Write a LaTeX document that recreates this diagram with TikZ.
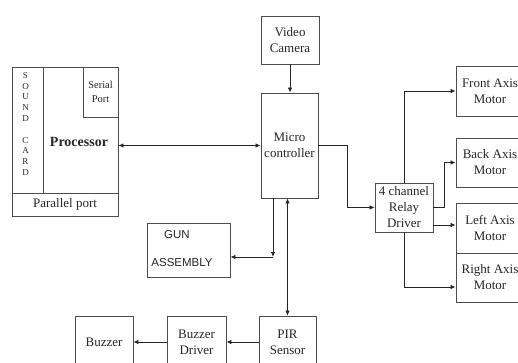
\documentclass[tikz,border=0pt]{standalone}
\usepackage{fontspec}
\setmainfont{Liberation Serif}
\newfontfamily\gunfont{Liberation Sans}
\usetikzlibrary{arrows.meta}

\tikzset{
  blk/.style={draw=black!70, line width=0.9pt, inner sep=0pt, align=center,
              text=black!85, font=\fontsize{13}{16}\selectfont},
  lbl/.style={inner sep=0pt, align=center, text=black!85},
  wire/.style={draw=black!85, line width=0.8pt},
  tip/.style={-{Latex[length=5pt,width=4.5pt]}},
  tips/.style={{Latex[length=5pt,width=4.5pt]}-{Latex[length=5pt,width=4.5pt]}},
}

\begin{document}
\begin{tikzpicture}[x=1pt, y=-1pt]
\useasboundingbox (0,0) rectangle (518,363);
\clip (0,0) rectangle (518,363);
\fill[white] (0,0) rectangle (518,363);

% PC side: sound card, processor, serial and parallel port
\node[blk, minimum width=31, minimum height=126] (sound)  at ( 27.5, 130) {};
\node[blk, minimum width=75, minimum height=126] (proc)   at ( 80.5, 130) {};
\node[blk, minimum width=35, minimum height=50, font=\fontsize{10.5}{14}\selectfont]
                                                 (serial) at (100.5,  92) {Serial\\Port};
\node[blk, minimum width=106, minimum height=23] (para)   at ( 65.0, 204.5) {Parallel port};
\node[lbl, font=\fontsize{9}{10.8}\selectfont]   (soundlbl) at (25.5, 124)
  {S\\O\\U\\N\\D\\[10.8pt]C\\A\\R\\D};
\node[lbl, font=\bfseries\fontsize{14}{16}\selectfont] (proclbl) at (79, 142) {Processor};

% controller and camera
\node[blk, minimum width=58, minimum height=48]  (camera) at (290.0,  40) {Video\\Camera};
\node[blk, minimum width=57, minimum height=105] (micro)  at (289.5, 145.5) {Micro\\controller};

% relay and motors
\node[blk, minimum width=58, minimum height=49]  (relay)  at (404.0, 207.5) {4 channel\\Relay\\Driver};
\node[blk, minimum width=68, minimum height=50]  (front)  at (490.0,  91) {Front Axis\\Motor};
\node[blk, minimum width=68, minimum height=49]  (back)   at (490.0, 162.5) {Back Axis\\Motor};
\node[blk, minimum width=68, minimum height=50]  (left)   at (490.0, 228) {Left Axis\\Motor};
\node[blk, minimum width=68, minimum height=49]  (right)  at (490.0, 277.5) {Right Axis\\Motor};

% gun assembly
\node[blk, minimum width=83, minimum height=54]  (gun)    at (188.5, 250) {};
\node[lbl, font=\gunfont\fontsize{11.5}{14}\selectfont] (gunA) at (177, 235) {GUN};
\node[lbl, font=\gunfont\fontsize{11.5}{14}\selectfont] (gunB) at (182, 263) {ASSEMBLY};

% sensor and buzzer
\node[blk, minimum width=57, minimum height=52]  (pir)    at (287.5, 342) {PIR\\Sensor};
\node[blk, minimum width=59, minimum height=52]  (buzdrv) at (196.5, 342) {Buzzer\\Driver};
\node[blk, minimum width=58, minimum height=52]  (buzzer) at (104.0, 342) {Buzzer};

% connections
\draw[wire, tips] (proc.east |- micro.west) -- (micro.west);
\draw[wire, tip]  (camera.south) -- (camera.south |- micro.north);
\draw[wire, tip]  (micro.east) -- ++(29,0) |- (relay.west);

\draw[wire, tip]  (relay.north) |- (front.west);
\draw[wire, tip]  (relay.east) -- ++(11,0) |- (back.west);
\draw[wire, tip]  (relay.east |- 0,225) -- (left.west |- 0,225);
\draw[wire, tip]  (relay.south) |- ([yshift=-9.5pt]right.west);

\coordinate (gunturn) at (273, 257);
\draw[wire, tip]  (micro.south -| gunturn) -- (gunturn);
\draw[wire, tip]  (gunturn) -- (gun.east |- gunturn);

\draw[wire, tips] (pir.north |- micro.south) -- (pir.north);
\draw[wire, tip]  (pir.west) -- (buzdrv.east);
\draw[wire, tip]  (buzdrv.west) -- (buzzer.east);

\end{tikzpicture}
\end{document}
